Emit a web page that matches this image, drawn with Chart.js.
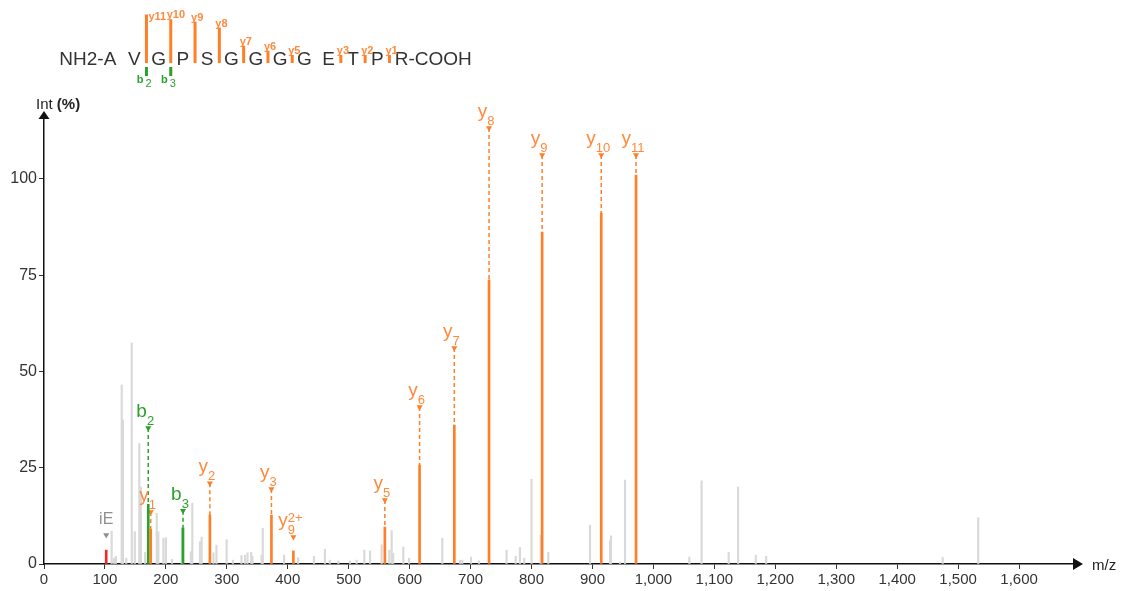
<!DOCTYPE html>
<html>
<head>
<meta charset="utf-8">
<script src="https://cdn.jsdelivr.net/npm/chart.js@4/dist/chart.umd.min.js"></script>
<style>
  html, body { margin: 0; padding: 0; background: #fff; }
</style>
</head>
<body>
<canvas id="spectrum" width="1125" height="591"></canvas>
<script>
// Peptide sequence shown above the spectrum
const sequence = ['A', 'V', 'G', 'P', 'S', 'G', 'G', 'G', 'G', 'E', 'T', 'P', 'R'];

// Annotated fragment peaks (m/z, relative intensity, height of the label marker)
const ionType = ['y', 'y', 'y', 'y', 'y', 'y', 'y', 'y', 'y', 'y', 'y', 'b', 'b', 'imm'];
const ionBase = ['y', 'y', 'y', 'y', 'y', 'y', 'y', 'y', 'y', 'y', 'y', 'b', 'b', 'iE'];
const ionSub = ['1', '2', '3', '9', '5', '6', '7', '8', '9', '10', '11', '2', '3', ''];
const ionSup = ['', '', '', '2+', '', '', '', '', '', '', '', '', '', ''];
const ionMz = [175.1, 272.2, 373.2, 409.2, 559.3, 616.3, 673.3, 730.3, 817.4, 914.4, 971.5, 171.1, 228.1, 102.1];
const ionInt = [9.0, 12.7, 12.7, 3.4, 9.6, 25.7, 36.1, 73.8, 86.2, 91.2, 101.0, 15.5, 9.4, 3.6];
const ionMark = [13.5, 21.0, 19.5, 7.0, 16.6, 40.8, 56.1, 113.2, 106.2, 106.2, 106.2, 35.3, 13.8, 7.5];

// Unassigned peaks
const otherMz = [111, 115, 118, 127.5, 129.5, 135, 144, 149, 156.4, 159, 166, 185, 187.6, 196, 200, 210,
  226, 241, 243.4, 256, 258.7, 278, 283, 299.7, 310, 324, 330, 334, 340, 342, 357, 359, 394, 417, 443,
  461, 469, 483, 502, 513, 525.6, 535, 554, 566.7, 570.5, 573, 589.6, 599, 653.6, 682.6, 686.4, 700.7,
  713.8, 759, 774, 781, 788, 800, 815, 827.5, 896, 928.8, 930.4, 945, 953.4, 1059, 1079, 1123.5, 1139,
  1168, 1185, 1474.7, 1533];
const otherInt = [8.5, 1.5, 2, 46.5, 37.4, 1.5, 57.4, 8.4, 31.3, 20, 3, 13.2, 8.4, 6.7, 6.8, 1.2,
  9.3, 3.2, 15.8, 5.8, 7, 2.9, 4.9, 6.3, 1, 2.2, 2.3, 2.9, 3, 2, 2.3, 9.3, 2.3, 1.6, 2,
  3.8, 1, 0.8, 0.8, 1, 3.6, 3.4, 5, 3.6, 8.7, 2.8, 4.4, 1.5, 6.7, 1, 1, 1.8,
  0.8, 3.6, 2, 4.3, 1.5, 22, 7.5, 3, 10.1, 6, 7.3, 0.5, 21.8, 1.8, 21.6, 3, 20,
  2.3, 2, 1.7, 12];

// Axis ranges and ticks
const xMax = 1700;
const xTickStep = 100;
const xTickLast = 1600;
const yMax = 116.6;
const yTickStep = 25;
const yTickLast = 100;

const fontFamily = '"Liberation Sans", Arial, sans-serif';
const lineColors = { y: '#ff7f27', b: '#2ca02c', imm: '#ee2a2a' };
const labelColors = { y: '#ff8a3d', b: '#2ca02c', imm: '#8f8f8f' };
const markColors = { y: '#ff7f27', b: '#2ca02c', imm: '#8f8f8f' };
const types = ['y', 'b', 'imm'];

// bars for the annotated peaks, one dataset per ion type
const ionBars = types.map(t => ({
    type: 'bar',
    data: ionMz.map((m, i) => ({ x: m, y: ionInt[i], t: ionType[i] })).filter(p => p.t === t),
    backgroundColor: lineColors[t],
    barThickness: 2,
    order: 0
}));

// dashed stems from the label marker down to the peak top
const ionStems = ionMz
    .map((m, i) => ({ m, i }))
    .filter(o => ionMark[o.i] - ionInt[o.i] > 4)
    .map(o => ({
        type: 'line',
        data: [{ x: o.m, y: ionMark[o.i] }, { x: o.m, y: ionInt[o.i] }],
        borderColor: lineColors[ionType[o.i]],
        borderWidth: 1.5,
        borderDash: [4, 3],
        pointRadius: 0,
        order: 2
    }));

// small downward triangles under each label
const ionMarks = types.map(t => ({
    type: 'scatter',
    data: ionMz.map((m, i) => ({ x: m, y: ionMark[i], t: ionType[i] })).filter(p => p.t === t),
    pointStyle: 'triangle',
    pointRotation: 180,
    pointRadius: 3.5,
    pointHoverRadius: 3.5,
    pointBackgroundColor: markColors[t],
    pointBorderWidth: 0,
    order: 1
}));

const otherBars = {
    type: 'bar',
    data: otherMz.map((m, i) => ({ x: m, y: otherInt[i] })),
    backgroundColor: '#d9d9d9',
    barThickness: 1.5,
    order: 5
};

// Draw a fragment label like y with subscript / superscript
function drawIonLabel(ctx, i, px, py) {
    const color = labelColors[ionType[i]];
    const big = (ionType[i] === 'imm' ? '16px ' : '19px ') + fontFamily;
    const small = '13px ' + fontFamily;
    ctx.font = big;
    const wb = ctx.measureText(ionBase[i]).width;
    ctx.font = small;
    const ws = Math.max(ctx.measureText(ionSub[i]).width, ctx.measureText(ionSup[i]).width);
    const left = px - (wb + ws) / 2 - (ws > 0 ? 3 : 0);
    ctx.fillStyle = color;
    ctx.textAlign = 'left';
    ctx.textBaseline = 'alphabetic';
    ctx.font = big;
    ctx.fillText(ionBase[i], left, py - 11);
    ctx.font = small;
    if (ionSub[i]) ctx.fillText(ionSub[i], left + wb, py - 3);
    if (ionSup[i]) ctx.fillText(ionSup[i], left + wb, py - 15);
}

// Sequence with fragment coverage bars at the top
function drawSequence(ctx) {
    const n = sequence.length;
    const step = 24.3;
    const firstX = 110;
    const baseY = 65;
    ctx.fillStyle = '#333';
    ctx.font = '19px ' + fontFamily;
    ctx.textBaseline = 'alphabetic';
    ctx.textAlign = 'center';
    sequence.forEach((aa, k) => ctx.fillText(aa, firstX + k * step, baseY));
    const wA = ctx.measureText(sequence[0]).width;
    ctx.textAlign = 'right';
    ctx.fillText('NH2-', firstX - wA / 2, baseY);
    const wR = ctx.measureText(sequence[n - 1]).width;
    ctx.textAlign = 'left';
    ctx.fillText('-COOH', firstX + (n - 1) * step + wR / 2, baseY);

    // y ions: orange bars above
    let first = true;
    ionMz.forEach((m, i) => {
        if (ionType[i] !== 'y' || ionSup[i]) return;
        const num = parseInt(ionSub[i], 10);
        const bx = firstX + (n - num - 0.5) * step;
        const len = Math.max(8, ionInt[i] * 0.48);
        const top = 63 - len;
        ctx.fillStyle = lineColors.y;
        ctx.fillRect(bx - 1.5, top, 3, len);
        ctx.font = 'bold 11px ' + fontFamily;
        ctx.fillStyle = labelColors.y;
        ctx.textAlign = 'left';
        if (num === 11) ctx.fillText('y' + num, bx + 2, top + 5);
        else ctx.fillText('y' + num, bx - 4, top - 1);
        first = false;
    });

    // b ions: green bars below
    ionMz.forEach((m, i) => {
        if (ionType[i] !== 'b') return;
        const num = parseInt(ionSub[i], 10);
        const bx = firstX + (num - 0.5) * step;
        ctx.fillStyle = lineColors.b;
        ctx.fillRect(bx - 1.5, 67, 3, 9);
        ctx.font = 'bold 11px ' + fontFamily;
        ctx.textAlign = 'right';
        ctx.fillText('b', bx - 3, 83);
        ctx.font = '11px ' + fontFamily;
        ctx.textAlign = 'left';
        ctx.fillText(String(num), bx - 1, 87);
    });
}

const decorPlugin = {
    id: 'decor',
    afterDraw(chart) {
        const ctx = chart.ctx;
        const xs = chart.scales.x;
        const ys = chart.scales.y;
        const area = chart.chartArea;
        ctx.save();

        // axis arrow heads
        ctx.fillStyle = '#111';
        ctx.beginPath();
        ctx.moveTo(area.left, area.top - 4);
        ctx.lineTo(area.left - 5.5, area.top + 4);
        ctx.lineTo(area.left + 5.5, area.top + 4);
        ctx.closePath();
        ctx.fill();
        ctx.beginPath();
        ctx.moveTo(area.right + 3, area.bottom);
        ctx.lineTo(area.right - 7, area.bottom - 6);
        ctx.lineTo(area.right - 7, area.bottom + 6);
        ctx.closePath();
        ctx.fill();

        // axis titles
        ctx.fillStyle = '#222';
        ctx.textBaseline = 'alphabetic';
        ctx.textAlign = 'left';
        ctx.font = '15px ' + fontFamily;
        ctx.fillText('Int ', 36, 109);
        const wInt = ctx.measureText('Int ').width;
        ctx.font = 'bold 15px ' + fontFamily;
        ctx.fillText('(%)', 36 + wInt, 109);
        ctx.font = '15px ' + fontFamily;
        ctx.fillText('m/z', 1092, 570);

        // fragment labels
        ionMz.forEach((m, i) => {
            drawIonLabel(ctx, i, xs.getPixelForValue(m), ys.getPixelForValue(ionMark[i]));
        });

        drawSequence(ctx);
        ctx.restore();
    }
};

new Chart(document.getElementById('spectrum'), {
    type: 'bar',
    data: { datasets: [...ionBars, ...ionMarks, ...ionStems, otherBars] },
    options: {
        responsive: false,
        animation: false,
        devicePixelRatio: 1,
        layout: { padding: { top: 115, right: 45, left: 0, bottom: 0 } },
        datasets: { bar: { grouped: false } },
        plugins: { legend: { display: false }, tooltip: { enabled: false } },
        scales: {
            x: {
                type: 'linear',
                min: 0,
                max: xMax,
                offset: false,
                grid: { offset: false, drawOnChartArea: false, tickLength: 5, color: '#333' },
                border: { color: '#111', width: 1.5 },
                ticks: {
                    stepSize: xTickStep,
                    autoSkip: false,
                    maxRotation: 0,
                    padding: 2,
                    color: '#333',
                    font: { family: fontFamily, size: 15 },
                    callback: v => v.toLocaleString('en-US')
                },
                afterBuildTicks: s => { s.ticks = s.ticks.filter(t => t.value <= xTickLast); },
                afterFit: s => { s.height = 27; }
            },
            y: {
                min: 0,
                max: yMax,
                grid: { drawOnChartArea: false, tickLength: 5, color: '#333' },
                border: { color: '#111', width: 1.5 },
                ticks: {
                    stepSize: yTickStep,
                    padding: 2,
                    color: '#333',
                    font: { family: fontFamily, size: 16 }
                },
                afterBuildTicks: s => { s.ticks = s.ticks.filter(t => t.value <= yTickLast); },
                afterFit: s => { s.width = 44; }
            }
        }
    },
    plugins: [decorPlugin]
});
</script>
</body>
</html>
